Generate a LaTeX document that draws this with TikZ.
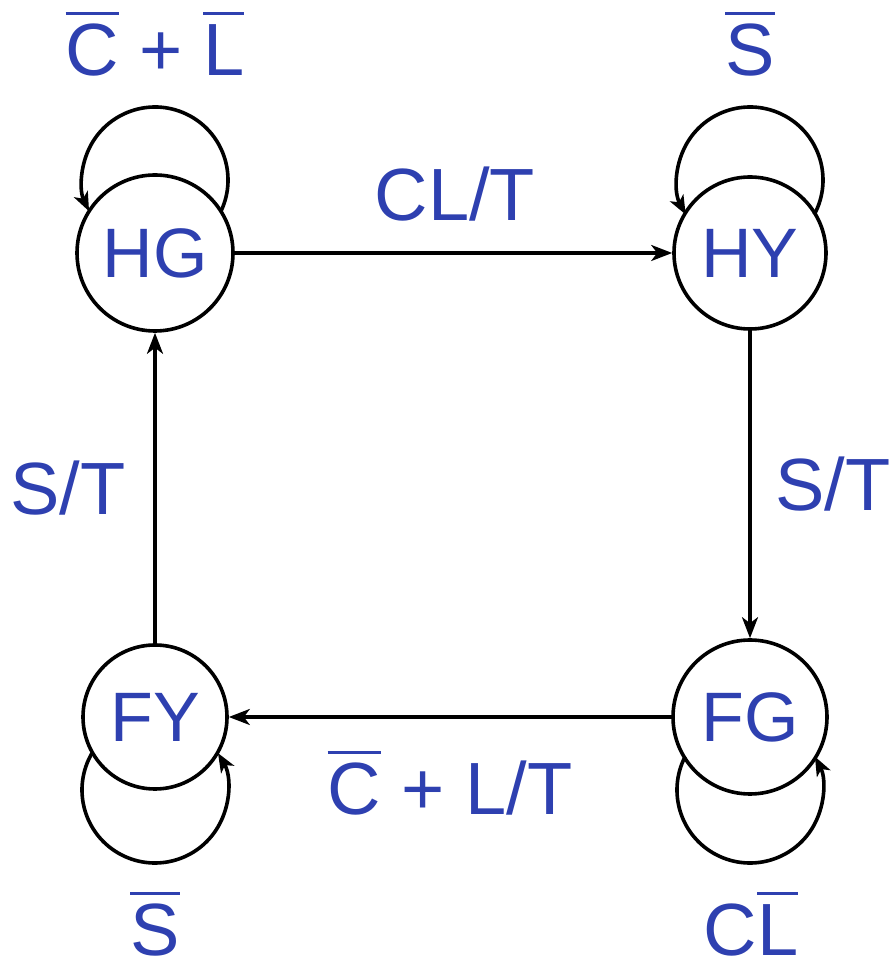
\documentclass[tikz,border=0pt]{standalone}
\usepackage{fontspec}
\setmainfont{Liberation Sans}
\usetikzlibrary{arrows.meta}
\definecolor{lblue}{RGB}{46,64,176}
\newcommand\ovl[1]{\sbox0{#1}\rlap{\rule[0.82em]{\wd0}{0.05em}}\usebox0}
\tikzset{
  state/.style={circle, draw=black, line width=3.6pt, text=lblue, inner sep=0pt,
    font=\fontsize{70}{80}\selectfont},
  lab/.style={text=lblue, anchor=base, inner sep=0pt, font=\fontsize{74}{84}\selectfont},
  arr/.style={line width=3.3pt, -{Stealth[length=21pt, width=16pt, inset=6pt]}},
  loopline/.style={line width=3.6pt, -{Stealth[length=19pt, width=15pt, inset=5pt]}}
}
\begin{document}
\begin{tikzpicture}[x=1pt,y=1pt]
\useasboundingbox (0,0) rectangle (890,962);
% states
\node[state, minimum size=156pt] (HG) at (155,709) {HG};
\node[state, minimum size=152pt] (HY) at (750,709) {HY};
\node[state, minimum size=144pt] (FY) at (155,245) {FY};
\node[state, minimum size=154pt] (FG) at (750,245) {FG};
% loop centres
\coordinate (HGl) at (155,782);
\coordinate (HYl) at (750,782);
\coordinate (FYl) at (155,172);
\coordinate (FGl) at (750,172);
% transitions
\draw[arr] (HG) -- (HY);
\draw[arr] (HY) -- (FG);
\draw[arr] (FG) -- (FY);
\draw[arr] (FY) -- (HG);
% self loops
\draw[loopline] ([shift={(-25.4:73pt)}]HGl) arc[start angle=-25.4, end angle=205.4, radius=73pt];
\draw[loopline] ([shift={(-28.3:73pt)}]HYl) arc[start angle=-28.3, end angle=208.3, radius=73pt];
\draw[loopline] ([shift={(149.6:73pt)}]FYl) arc[start angle=149.6, end angle=390.4, radius=73pt];
\draw[loopline] ([shift={(152.8:73pt)}]FGl) arc[start angle=152.8, end angle=387.2, radius=73pt];
% labels
\node[lab] (lHG) at (155,886) {\ovl{C} + \ovl{L}};
\node[lab] (lHY) at (750,886) {\ovl{S}};
\node[lab] (lFY) at (155,6) {\ovl{S}};
\node[lab] (lFG) at (751,6) {C\ovl{L}};
\node[lab] (e1) at (455,741) {CL/T};
\node[lab] (e2) at (833,451) {S/T};
\node[lab] (e3) at (450,147) {\ovl{C} + L/T};
\node[lab] (e4) at (68,447) {S/T};
\end{tikzpicture}
\end{document}
